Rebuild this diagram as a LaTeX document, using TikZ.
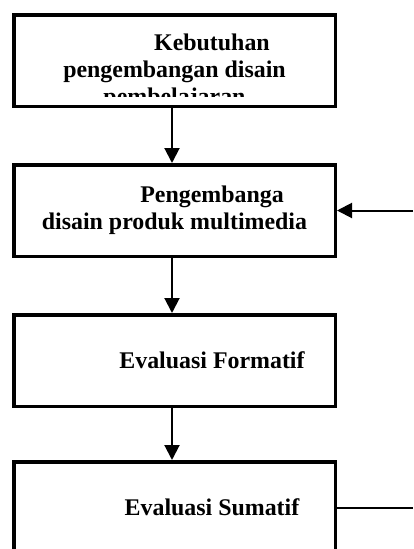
\documentclass[tikz,border=0pt]{standalone}
\usepackage{fontspec}
\setmainfont{Liberation Serif}
\usetikzlibrary{arrows.meta}
\newcommand{\geser}{\hspace*{75pt}}

\begin{document}
\begin{tikzpicture}[x=1pt,y=-1pt,font=\fontsize{23.9}{27}\selectfont\bfseries,
  kotak/.style={draw,line width=3.5pt,minimum width=321.5pt,minimum height=91.5pt,inner sep=0pt,align=center},
  panah/.style={line width=2pt,-{Triangle[width=15pt,length=15pt]}}]
\useasboundingbox (0,0) rectangle (413,549);
\node[kotak] (keb) at (174.5,60.5) {};
\begin{scope}
\clip (16,16) rectangle (333,96.7);
\node[align=center,inner sep=0pt,anchor=north] (kebteks) at (174.5,33.5) {\geser Kebutuhan\\pengembangan disain\\pembelajaran};
\end{scope}
\node[kotak] (desain) at (174.5,210.5) {\geser Pengembanga\\disain produk multimedia};
\node[kotak] (formatif) at (174.5,360.5) {\geser Evaluasi Formatif};
\node[kotak] (sumatif) at (174.5,507.5) {\geser Evaluasi Sumatif};
\coordinate (balik) at (413,210.5);
\coordinate (keluar) at (413,507.5);
\draw[panah] ([xshift=-2.5pt]keb.south) -- ([xshift=-2.5pt]desain.north);
\draw[panah] ([xshift=-2.5pt]desain.south) -- ([xshift=-2.5pt]formatif.north);
\draw[panah] ([xshift=-2.5pt]formatif.south) -- ([xshift=-2.5pt]sumatif.north);
\draw[panah] (balik) -- (desain.east);
\draw[line width=2pt] (sumatif.east) -- (keluar);
\end{tikzpicture}
\end{document}
